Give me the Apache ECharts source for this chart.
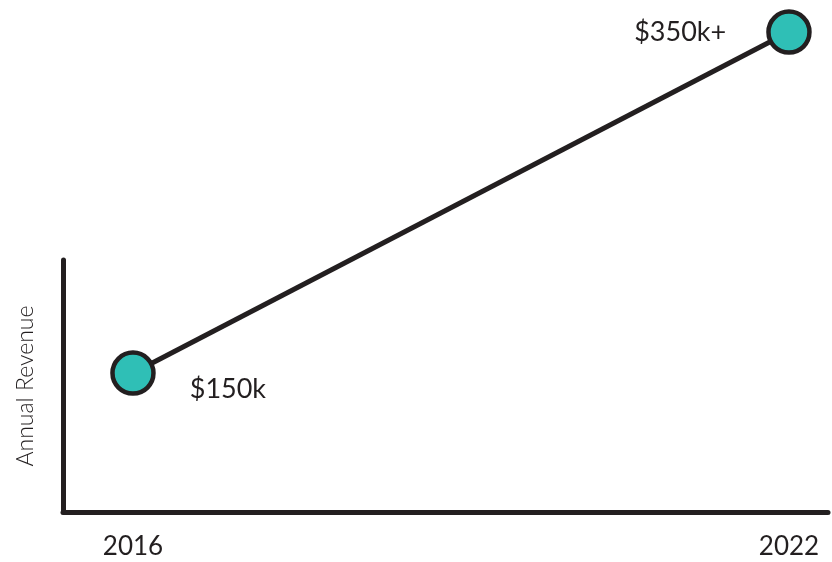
<!DOCTYPE html>
<html><head><meta charset="utf-8">
<script src="https://cdn.jsdelivr.net/npm/echarts@6/dist/echarts.min.js"></script>
<style>html,body{margin:0;padding:0;background:#fff}#c{width:832px;height:562px}</style>
</head><body><div id="c"></div>
<script>
const years = [2016, 2022];
const revenue = [150, 350];
const pointLabels = ['$150k', '$350k+'];
const tickLabels = [2016, 2022];
const axisName = 'Annual Revenue';

const ink = '#231f20';
const teal = '#2fbfb6';
const labelPlacement = [
  {position: 'right', distance: 34, offset: [0, 16]},
  {position: 'left', distance: 40, offset: [0, 0]}
];
const chart = echarts.init(document.getElementById('c'));
chart.setOption({
  animation: false,
  grid: {left: 63, right: 4, top: 260, bottom: 50, containLabel: false, outerBoundsMode: 'none'},
  xAxis: {
    type: 'value', min: 2015.36, max: 2022.357,
    axisLine: {show: true, lineStyle: {color: ink, width: 5}},
    axisTick: {show: false},
    splitLine: {show: false},
    axisLabel: {customValues: tickLabels, color: ink, fontFamily: 'Lato', fontSize: 26, margin: 22,
      formatter: v => String(Math.round(v))}
  },
  yAxis: {
    type: 'value', min: 68.5, max: 216.3,
    name: axisName, nameLocation: 'middle', nameGap: 26,
    nameTextStyle: {color: ink, fontFamily: 'Lato', fontSize: 23, fontWeight: 300},
    axisLine: {show: true, lineStyle: {color: ink, width: 5, cap: 'round'}},
    axisTick: {show: false}, axisLabel: {show: false}, splitLine: {show: false}
  },
  series: [{
    type: 'line', clip: false,
    data: years.map((y, i) => ({value: [y, revenue[i]], label: labelPlacement[i]})),
    lineStyle: {color: ink, width: 5},
    symbol: 'circle', symbolSize: 41,
    itemStyle: {color: teal, borderColor: ink, borderWidth: 4.5},
    z: 5,
    label: {show: true, color: ink, fontFamily: 'Lato', fontSize: 27,
      formatter: p => pointLabels[p.dataIndex]},
    emphasis: {disabled: true}
  }]
});
</script></body></html>
